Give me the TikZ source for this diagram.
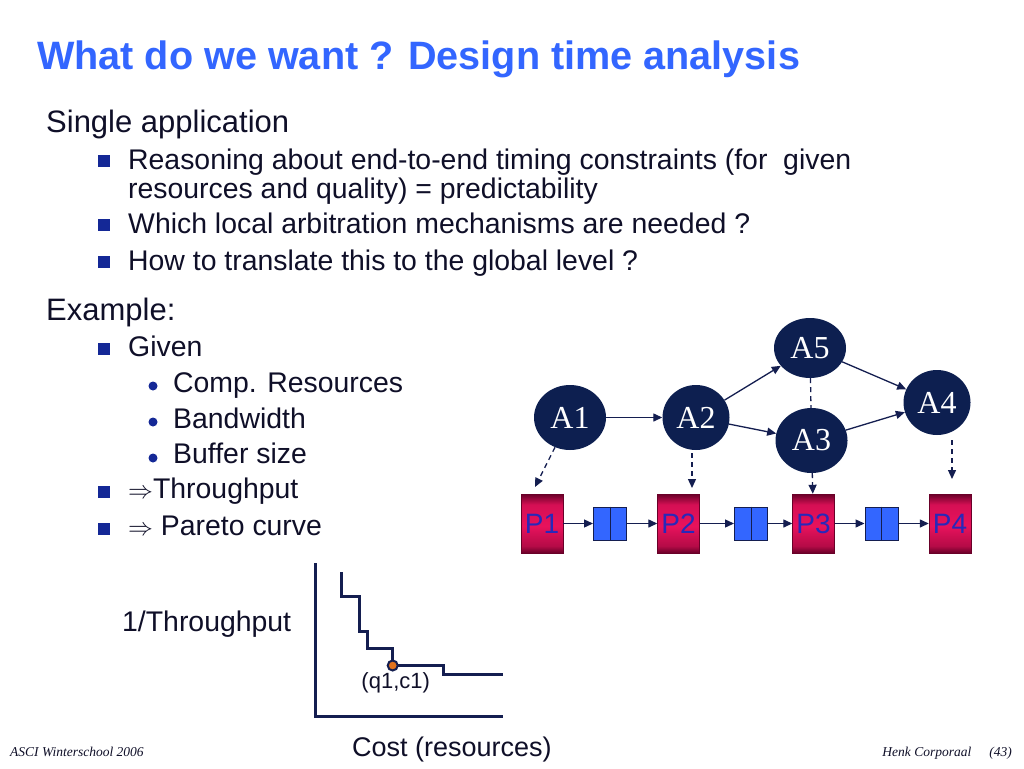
\documentclass[tikz,border=0pt]{standalone}
\usepackage{fontspec}
\setmainfont{Liberation Sans}
\newfontfamily\serifface{Liberation Serif}
\usetikzlibrary{shapes.geometric,arrows.meta,positioning,calc}

\definecolor{titleblue}{RGB}{51,102,255}
\definecolor{textnavy}{RGB}{15,15,40}
\definecolor{bulletblue}{RGB}{20,40,150}
\definecolor{anavy}{RGB}{13,31,80}
\definecolor{linenavy}{RGB}{20,30,80}
\definecolor{pdark}{RGB}{105,0,40}
\definecolor{pbright}{RGB}{232,18,92}
\definecolor{ptext}{RGB}{40,40,185}
\definecolor{bufblue}{RGB}{51,102,255}
\definecolor{optorange}{RGB}{225,115,30}

\pgfdeclareverticalshading{pboxshade}{100bp}{color(0bp)=(pdark); color(25bp)=(pdark); color(31bp)=(pdark!40!pbright); color(48bp)=(pbright); color(66bp)=(pbright!85!pdark); color(75bp)=(pdark); color(100bp)=(pdark)}

\tikzset{
  txt/.style={anchor=base west, inner sep=0pt, text=textnavy},
  lvlone/.style={txt, font=\fontsize{31}{31}\selectfont},
  lvltwo/.style={txt, font=\fontsize{28.4}{28.4}\selectfont},
  sqbullet/.style={fill=bulletblue, minimum size=12pt, inner sep=0pt},
  dotbullet/.style={circle, fill=bulletblue, minimum size=9pt, inner sep=0pt},
  task/.style={ellipse, fill=anavy, text=white, minimum width=72pt, minimum height=65pt, inner sep=0pt, font=\serifface\fontsize{32}{32}\selectfont},
  proc/.style={rectangle, draw=pdark, shade, shading=pboxshade, minimum width=42pt, minimum height=59pt, inner sep=0pt, text=ptext, font=\fontsize{28}{28}\selectfont},
  buffer/.style={rectangle, draw=linenavy, fill=bufblue, minimum size=33pt, inner sep=0pt, line width=1pt},
  flow/.style={-{Triangle[length=9pt,width=8pt]}, draw=linenavy, line width=1.3pt},
  mapping/.style={flow, dash pattern=on 5pt off 4pt},
  axis/.style={draw=linenavy, line width=3pt},
}

\begin{document}
\begin{tikzpicture}[x=1pt, y=-1pt]
    \useasboundingbox[fill=white] (0,0) rectangle (1024,768);

    % Title and text
    \node[txt, text=titleblue, font=\bfseries\fontsize{39.6}{39.6}\selectfont] (title) at (37,70) {What do we want ? Design time analysis};
    \node[lvlone] (single) at (46,132) {Single application};
    \node[sqbullet] (b1) at (104,161) {};
    \node[lvltwo] (reason) at (128,169) {Reasoning about end-to-end timing constraints (for\ \ given};
    \node[lvltwo] (reasonb) at (128,198) {resources and quality) = predictability};
    \node[sqbullet] (b2) at (104,225) {};
    \node[lvltwo] (which) at (128,233) {Which local arbitration mechanisms are needed ?};
    \node[sqbullet] (b3) at (104,262) {};
    \node[lvltwo] (how) at (128,270) {How to translate this to the global level ?};

    \node[lvlone] (example) at (46,320) {Example:};
    \node[sqbullet] (b4) at (104,349) {};
    \node[lvltwo] (given) at (128,356) {Given};
    \node[dotbullet] (d1) at (153,386) {};
    \node[lvltwo] (comp) at (173,392) {Comp. Resources};
    \node[dotbullet] (d2) at (153,422) {};
    \node[lvltwo] (band) at (173,428) {Bandwidth};
    \node[dotbullet] (d3) at (153,458) {};
    \node[lvltwo] (buf) at (173,463.5) {Buffer size};
    \node[sqbullet] (b5) at (104,492) {};
    \node[lvltwo] (thr) at (128,498.5) {$\Rightarrow$Throughput};
    \node[sqbullet] (b6) at (104,529) {};
    \node[lvltwo] (par) at (128,535) {$\Rightarrow$ Pareto curve};

    % Nodes
    \node(A1) [task] at (570,417.5) {A1};
    \node(A2) [task, minimum width=67pt] at (696,417.5) {A2};
    \node(A5) [task, minimum height=60pt] at (810,348) {A5};
    \node(A3) [task] at (811.5,440.5) {A3};
    \node(A4) [task, minimum width=67pt] at (937,402.5) {A4};

    \node(P1) [proc] at (542,523.5) {P1};
    \node(B1) [buffer] at (610,523.5) {};
    \node(P2) [proc] at (678.5,523.5) {P2};
    \node(B2) [buffer] at (751,523.5) {};
    \node(P3) [proc] at (813.5,523.5) {P3};
    \node(B3) [buffer] at (881.5,523.5) {};
    \node(P4) [proc] at (950,523.5) {P4};
    \foreach \b in {B1,B2,B3}
        \draw[linenavy, line width=1pt] (\b.north) -- (\b.south);

    \coordinate (P1in) at (535,487);
    \coordinate (P2in) at (692,488);
    \coordinate (P4in) at (952,479);

    % Edges
    \draw[flow] (A1) -- (A2);
    \draw[flow] (A2) -- (A5);
    \draw[flow] (A2) -- (A3);
    \draw[flow] (A5) -- (A4);
    \draw[flow] (A3) -- (A4);
    \draw[flow] (P1) -- (B1);
    \draw[flow] (B1) -- (P2);
    \draw[flow] (P2) -- (B2);
    \draw[flow] (B2) -- (P3);
    \draw[flow] (P3) -- (B3);
    \draw[flow] (B3) -- (P4);

    % Mappings
    \draw[mapping] (A1) -- (P1in);
    \draw[mapping, shorten <=3pt] (A2.south -| P2in) -- (P2in);
    \draw[linenavy, line width=1.3pt, dash pattern=on 5pt off 4pt] (A5) -- (A3);
    \draw[mapping] (A3) -- (P3);
    \draw[mapping, shorten <=5pt] (A4.south -| P4in) -- (P4in);

    % Pareto curve
    \draw[axis] (315.7,563) -- (315.7,716) -- (502.7,716);
    \draw[axis] (341,572) |- (359.3,596.7) |- (367.3,631) |- (392.7,648.7) |- (443.3,665.3) |- (502.7,674);
    \node(opt) [circle, fill=optorange, draw=linenavy, line width=2pt, minimum size=10pt, inner sep=0pt] at (392.7,665.5) {};
    \node(optlabel) [txt, anchor=base, font=\fontsize{22}{22}\selectfont] at ($(opt)+(3,22.5)$) {(q1,c1)};
    \node(ylabel) [lvltwo] at (122,631) {1/Throughput};
    \node(xlabel) [txt, font=\fontsize{27}{27}\selectfont] at (352,756) {Cost (resources)};

    % Footer
    \node(footl) [txt, font=\serifface\itshape\fontsize{13.5}{13.5}\selectfont] at (10,756) {ASCI Winterschool 2006};
    \node(footr) [txt, anchor=base east, font=\serifface\itshape\fontsize{13.5}{13.5}\selectfont] at (1012,756) {Henk Corporaal\hspace{18pt}(43)};

\end{tikzpicture}
\end{document}
